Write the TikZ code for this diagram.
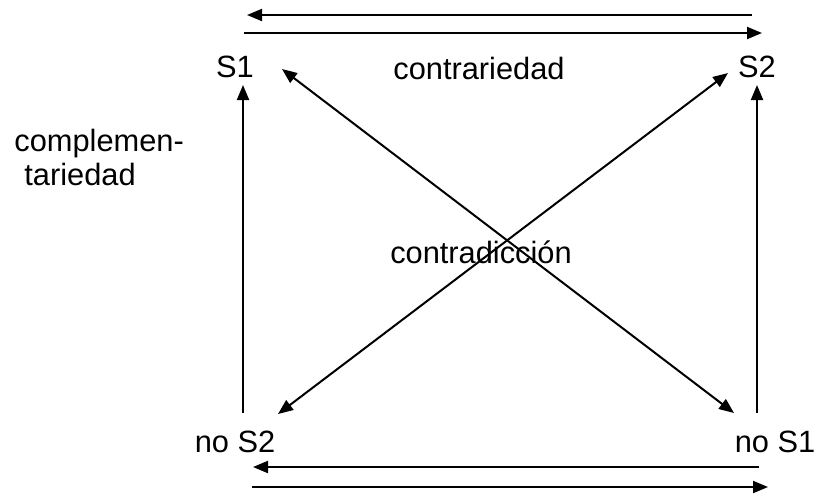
\documentclass[tikz,border=0pt]{standalone}
\usepackage{fontspec}
\setmainfont{Liberation Sans}
\usetikzlibrary{arrows.meta}

\begin{document}
\begin{tikzpicture}[x=0.5pt, y=-0.5pt,
    every node/.style={font=\fontsize{15.4}{16.5}\selectfont, inner sep=0pt},
    arr/.style={line width=1pt, -{Triangle[length=7.5pt, width=6pt]}},
    arrs/.style={line width=1pt, {Triangle[length=7.5pt, width=6pt]}-{Triangle[length=7.5pt, width=6pt]}}]
    \useasboundingbox (0,0) rectangle (818,494);
    % terms of the square
    \node (s1) at (235,67) {S1};
    \node (s2) at (757,67) {S2};
    \node (nos2) at (235,442) {no S2};
    \node (nos1) at (775,442) {no S1};
    \node (contr) at (479,68) {contrariedad};
    \node (contrad) at (481,252) {contradicción};
    \node[align=left, anchor=north west] (compl) at (14,129)
          {complemen-\\[0.5pt]\hspace{5pt}tariedad};
    % ends of the connectors
    \coordinate (tl1) at (247,15);  \coordinate (tr1) at (752,15);
    \coordinate (tl2) at (244,33);  \coordinate (tr2) at (762,33);
    \coordinate (bl1) at (253,467); \coordinate (br1) at (759,467);
    \coordinate (bl2) at (252,487); \coordinate (br2) at (768,487);
    \coordinate (lt) at (243,85);   \coordinate (lb) at (243,413);
    \coordinate (rt) at (757,85);   \coordinate (rb) at (757,413);
    \coordinate (d1a) at (282,69);  \coordinate (d1b) at (734,413);
    \coordinate (d2a) at (278,414); \coordinate (d2b) at (728,73);
    % contrariedad
    \draw[arr] (tr1) -- (tl1);
    \draw[arr] (tl2) -- (tr2);
    % subcontrariedad
    \draw[arr] (br1) -- (bl1);
    \draw[arr] (bl2) -- (br2);
    % complementariedad
    \draw[arr] (lb) -- (lt);
    \draw[arr] (rb) -- (rt);
    % contradiccion
    \draw[arrs] (d1a) -- (d1b);
    \draw[arrs] (d2a) -- (d2b);
\end{tikzpicture}
\end{document}
